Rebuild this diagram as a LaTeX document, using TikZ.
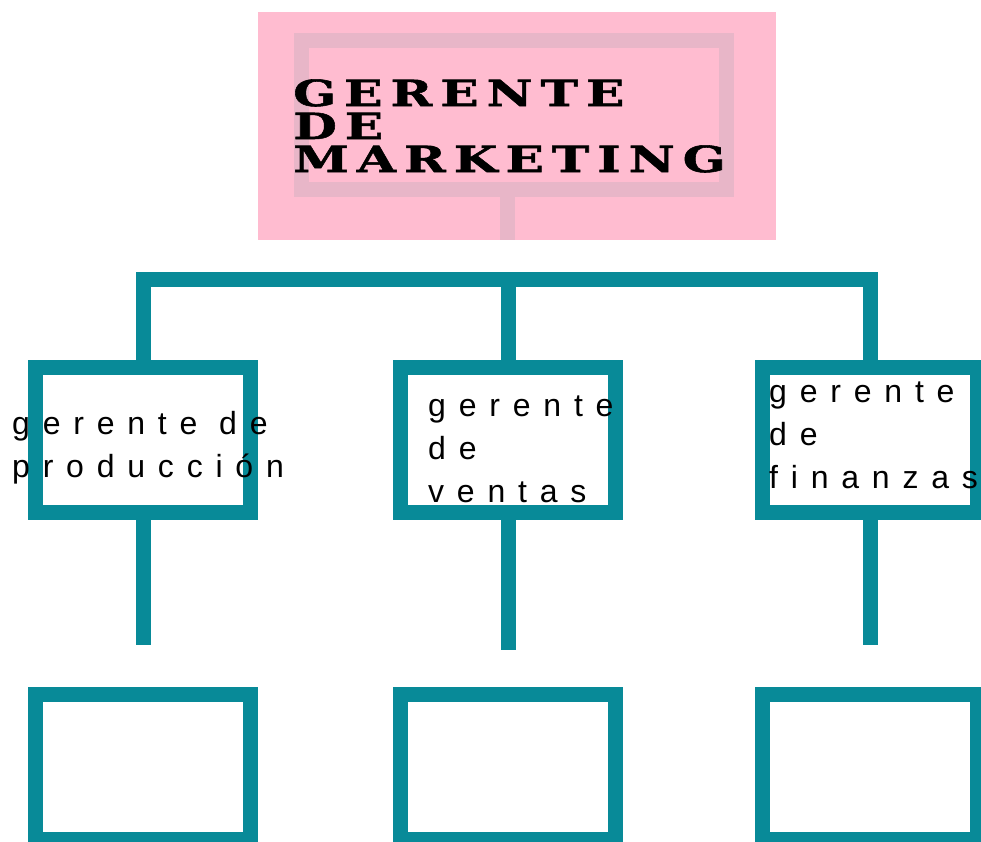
\documentclass[tikz,border=0pt]{standalone}
\usepackage{fontspec}
\setmainfont{Liberation Sans}
\newfontfamily\titlefont[FakeStretch=1.4,LetterSpace=22,FakeBold=1.5]{DejaVu Serif}
\newfontfamily\boxfont[LetterSpace=40]{Liberation Sans}
\definecolor{orgteal}{RGB}{8,138,152}
\definecolor{rosa}{RGB}{255,188,208}
\definecolor{rosaframe}{RGB}{232,182,200}

\begin{document}
\begin{tikzpicture}[x=1pt,y=-1pt]
\tikzstyle{box} = [draw=orgteal, line width=15pt, minimum width=215pt, minimum height=145pt, inner sep=0pt]
\tikzstyle{link} = [draw=orgteal, line width=15pt]
\tikzstyle{boxtext} = [anchor=base west, align=left, inner sep=0pt, font=\boxfont\fontsize{32}{43}\selectfont]

\fill [white] (0,0) rectangle (981,841);
\useasboundingbox (0,0) rectangle (981,841);

% cabecera
\node [fill=rosa, minimum width=518pt, minimum height=228pt, inner sep=0pt] (gm) at (517,126) {};
\node [draw=rosaframe, line width=15pt, minimum width=425pt, minimum height=149pt, inner sep=0pt] (gmf) at (513.5,114.5) {};
\draw [-, draw=rosaframe, line width=15pt] (gmf.south) ++(-6,0) coordinate (st) -- (st |- gm.south);
\node [anchor=base west, align=left, inner sep=0pt, font=\titlefont\bfseries\fontsize{36}{33}\selectfont] (gmt) at (293,172) {GERENTE\\DE\\MARKETING};

\node [box] (p) at (143,440) {};
\node [box] (v) at (508,440) {};
\node [box] (f) at (870,440) {};

\node [box] (pb) at (143,767) {};
\node [box] (vb) at (508,767) {};
\node [box] (fb) at (870,767) {};

\coordinate (bar) at (0,279.5);
\coordinate (ps) at (143,645);
\coordinate (vs) at (508,650);
\coordinate (fs) at (870,645);

\draw [link] (p.north) -- (p.north |- bar) -- (f.north |- bar) -- (f.north);
\draw [link] (v.north) -- (v.north |- bar);
\draw [link] (p.south) -- (ps);
\draw [link] (v.south) -- (vs);
\draw [link] (f.south) -- (fs);

\node [boxtext] (pt) at (12,477) {gerente de\\producción};
\node [boxtext] (vt) at (428,502) {gerente\\de\\ventas};
\node [boxtext] (ft) at (769,488) {gerente\\de\\finanzas};
\end{tikzpicture}
\end{document}
